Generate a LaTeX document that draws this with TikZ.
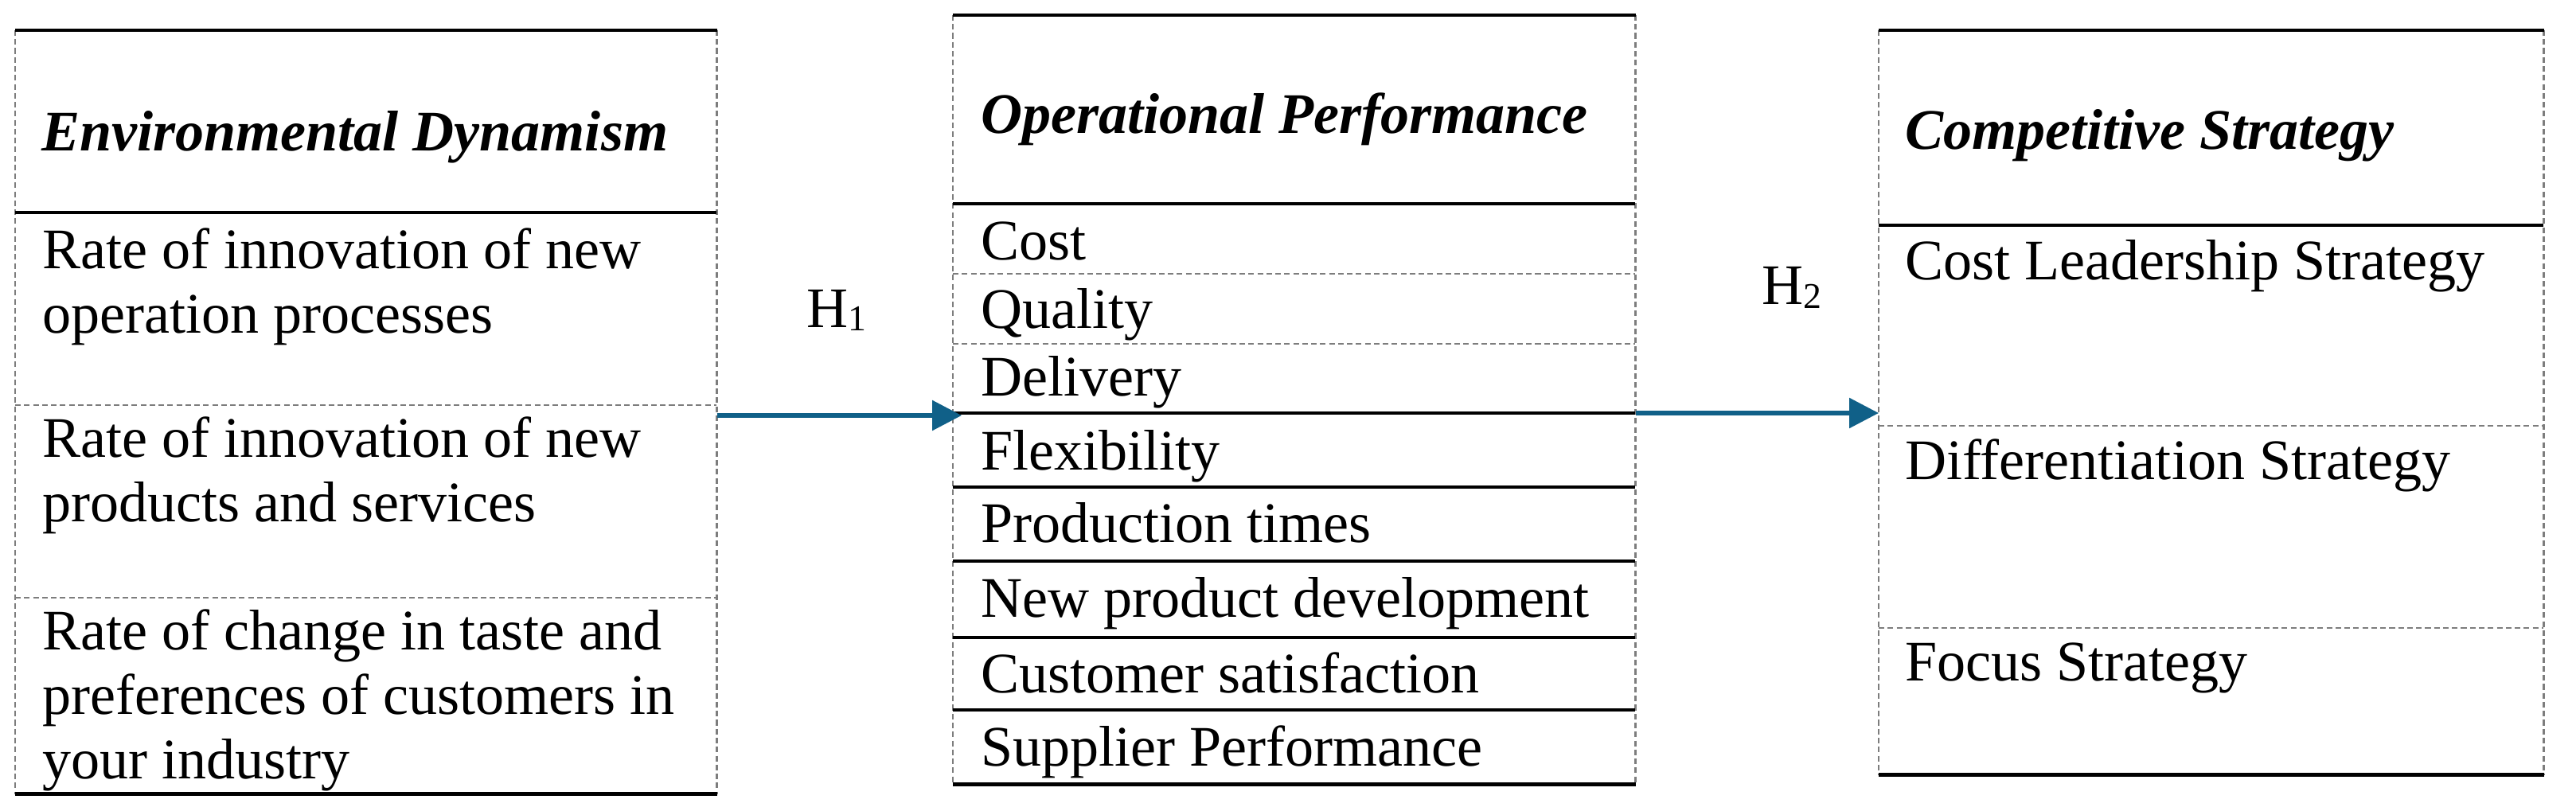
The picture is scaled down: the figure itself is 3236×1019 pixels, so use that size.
\documentclass[tikz,border=0pt]{standalone}
\usepackage{fontspec}
\setmainfont{Liberation Serif}
\usetikzlibrary{arrows.meta}
\definecolor{flowblue}{RGB}{16,96,136}
\definecolor{rulegrey}{RGB}{125,125,125}
\tikzset{
  tframe/.style={draw=none, inner sep=0pt, outer sep=0pt, anchor=north west},
  solidrule/.style={line width=1.2pt, black},
  dashrule/.style={line width=0.65pt, rulegrey, dash pattern=on 2pt off 1.2pt},
  txt/.style={anchor=base west, inner sep=0pt, outer sep=0pt, font=\fontsize{20.5pt}{23pt}\selectfont},
  headtxt/.style={txt, font=\fontsize{20.5pt}{23pt}\selectfont\bfseries\itshape},
  flow/.style={flowblue, line width=1.65pt, -{Triangle[length=0.37cm,width=0.37cm]}},
}
\newcommand{\cellbox}[1]{\parbox[t]{8.5cm}{\raggedright #1}}
\begin{document}
\begin{tikzpicture}[x=0.01cm, y=-0.01cm]
\useasboundingbox (0,0) rectangle (3236,1019);

% table frames
\node[tframe, minimum width=8.81cm, minimum height=9.59cm] (L) at (19,38) {};
\node[tframe, minimum width=8.57cm, minimum height=9.66cm] (M) at (1197,19) {};
\node[tframe, minimum width=8.35cm, minimum height=9.35cm] (R) at (2360,38) {};

% vertical dashed borders
\foreach \t in {L,M,R} {
  \draw[dashrule] (\t.north west) -- (\t.south west);
  \draw[dashrule] (\t.north east) -- (\t.south east);
}

% left table rules
\foreach \y in {509,751} \draw[dashrule] (19,\y) -- (900,\y);
\draw[solidrule] (L.north west) -- (L.north east);
\draw[solidrule] (19,267) -- (900,267);
\draw[solidrule] (L.south west) -- (L.south east);

% middle table rules
\foreach \y in {344,432} \draw[dashrule] (1197,\y) -- (2054,\y);
\draw[solidrule] (M.north west) -- (M.north east);
\foreach \y in {256,519,612,705,801,892} \draw[solidrule] (1197,\y) -- (2054,\y);
\draw[solidrule] (M.south west) -- (M.south east);

% right table rules
\foreach \y in {535,789} \draw[dashrule] (2360,\y) -- (3195,\y);
\draw[solidrule] (R.north west) -- (R.north east);
\draw[solidrule] (2360,283) -- (3195,283);
\draw[solidrule] (R.south west) -- (R.south east);

% left table text
\node[headtxt] (lh) at (52,190) {Environmental Dynamism};
\node[txt] (l1) at (53,338) {\cellbox{Rate of innovation of new\\operation processes}};
\node[txt] (l2) at (53,575) {\cellbox{Rate of innovation of new\\products and services}};
\node[txt] (l3) at (53,817) {\cellbox{Rate of change in taste and\\preferences of customers in\\your industry}};

% middle table text
\node[headtxt] (mh) at (1232,168) {Operational Performance};
\node[txt] (m1) at (1232,327) {Cost};
\node[txt] (m2) at (1232,413) {Quality};
\node[txt] (m3) at (1232,498) {Delivery};
\node[txt] (m4) at (1232,591) {Flexibility};
\node[txt] (m5) at (1232,682) {Production times};
\node[txt] (m6) at (1232,775) {New product development};
\node[txt] (m7) at (1232,870) {Customer satisfaction};
\node[txt] (m8) at (1232,962) {Supplier Performance};

% right table text
\node[headtxt] (rh) at (2393,188) {Competitive Strategy};
\node[txt] (r1) at (2393,352) {Cost Leadership Strategy};
\node[txt] (r2) at (2393,603) {Differentiation Strategy};
\node[txt] (r3) at (2393,856) {Focus Strategy};

% hypothesis labels
\node[txt] (h1) at (1013,412) {H\raisebox{-0.04cm}{\fontsize{13pt}{14pt}\selectfont 1}};
\node[txt] (h2) at (2213,383) {H\raisebox{-0.05cm}{\fontsize{13pt}{14pt}\selectfont 2}};

% arrows
\path (L.north east) ++(0,484) coordinate (h1a);
\path (M.north east) ++(0,500) coordinate (h2a);
\draw[flow, shorten >=-0.11cm] (h1a) -- (h1a -| M.west);
\draw[flow] (h2a) -- (h2a -| R.west);
\end{tikzpicture}
\end{document}
